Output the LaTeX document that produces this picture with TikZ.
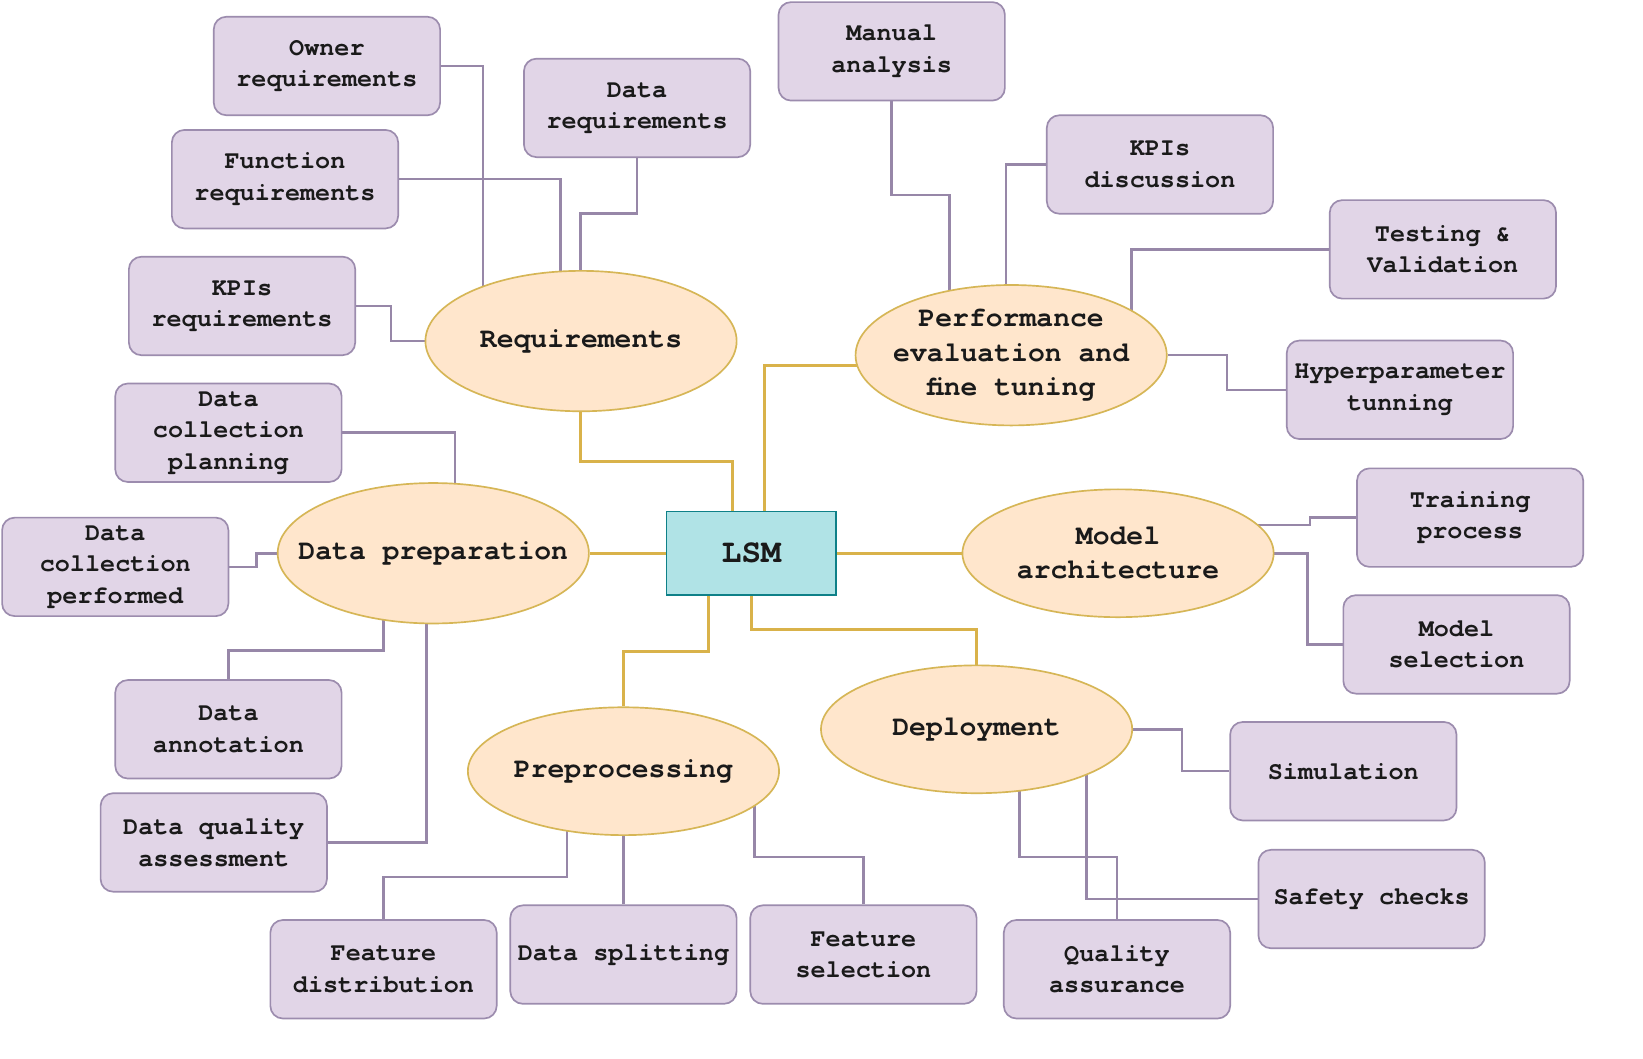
\documentclass[tikz,border=0pt]{standalone}
\usepackage{fontspec}
\setmonofont{TeX Gyre Cursor}
\usetikzlibrary{shapes.geometric}
\pgfdeclarelayer{background}
\pgfsetlayers{background,main}
\definecolor{boxfill}{HTML}{E1D5E7}
\definecolor{boxline}{HTML}{9C8CAE}
\definecolor{elfill}{HTML}{FFE6CC}
\definecolor{elline}{HTML}{D6B656}
\definecolor{lsmfill}{HTML}{B0E3E6}
\definecolor{lsmline}{HTML}{0E8088}
\definecolor{conP}{HTML}{9787A8}
\definecolor{conG}{HTML}{D9B24A}
\definecolor{txt}{HTML}{1A1A1A}
\begin{document}
\begin{tikzpicture}[x=0.5pt,y=-0.5pt,
  leaf/.style={draw=boxline, fill=boxfill, line width=0.8pt, rounded corners=6pt,
    minimum width=108pt, minimum height=47pt, inner sep=0pt, align=center, text=txt,
    font=\ttfamily\bfseries\fontsize{12}{15}\selectfont},
  phase/.style={ellipse, draw=elline, fill=elfill, line width=0.8pt,
    minimum width=148.5pt, minimum height=67pt, inner sep=0pt},
  phaseS/.style={phase, minimum height=61pt},
  phasetext/.style={align=center, text=txt, inner sep=0pt,
    font=\ttfamily\bfseries\fontsize{13.4}{16.3}\selectfont},
  core/.style={draw=lsmline, fill=lsmfill, line width=0.8pt, minimum width=81pt,
    minimum height=40pt, inner sep=0pt, text=txt,
    font=\ttfamily\bfseries\fontsize{15.8}{18}\selectfont},
  pl/.style={draw=conP, line width=1.2pt},
  gl/.style={draw=conG, line width=1.4pt}]
\useasboundingbox (0,0) rectangle (1568,1010);

% central node
\node[core] (lsm) at (717,528) {LSM};

% phases
\node[phase, label={[phasetext]center:Requirements}] (req) at (554.5,325.5) {};
\node[phase, label={[phasetext]center:{Performance\\evaluation and\\fine tuning}}] (perf) at (965,339) {};
\node[phase, label={[phasetext]center:{Data preparation}}] (dprep) at (413.5,528) {};
\node[phaseS, label={[phasetext]center:{Model\\architecture}}] (march) at (1067,528) {};
\node[phaseS, label={[phasetext]center:Deployment}] (dep) at (932,696) {};
\node[phaseS, label={[phasetext]center:Preprocessing}] (prep) at (595,736) {};

% leaves
\node[leaf] (own) at (312,63) {Owner\\requirements};
\node[leaf] (dreq) at (608,103) {Data\\requirements};
\node[leaf] (func) at (272,171) {Function\\requirements};
\node[leaf] (kpir) at (231,292) {KPIs\\requirements};
\node[leaf] (dcp) at (218,413) {Data\\collection\\planning};
\node[leaf] (dcperf) at (110,541) {Data\\collection\\performed};
\node[leaf] (dann) at (218,696) {Data\\annotation};
\node[leaf] (dqa) at (204,804) {Data quality\\assessment};
\node[leaf] (fdist) at (366,925) {Feature\\distribution};
\node[leaf] (dsplit) at (595,911) {Data splitting};
\node[leaf] (fsel) at (824,911) {Feature\\selection};
\node[leaf] (qa) at (1066,925) {Quality\\assurance};
\node[leaf] (safe) at (1309,858) {Safety checks};
\node[leaf] (sim) at (1282,736) {Simulation};
\node[leaf] (msel) at (1390,615) {Model\\selection};
\node[leaf] (train) at (1403,494) {Training\\process};
\node[leaf] (hyp) at (1336,372) {Hyperparameter\\tunning};
\node[leaf] (test) at (1377,238) {Testing \&\\Validation};
\node[leaf] (kpid) at (1107,157) {KPIs\\discussion};
\node[leaf] (man) at (851,49) {Manual\\analysis};

\begin{pgfonlayer}{background}
\fill[white] (0,0) rectangle (1568,1010);
% gold connectors from LSM
\draw[gl] (lsm.north -| 699,0) |- (554,440) -- (554,0 |- req);
\draw[gl] (lsm.north -| 730,0) |- ([yshift=-5pt]perf.center);
\draw[gl] (lsm) -- (dprep);
\draw[gl] (lsm) -- (march);
\draw[gl] (lsm.south -| 676,0) |- (595,622) -- (prep);
\draw[gl] (lsm) |- (932,601) -- (dep);

% requirements
\draw[pl] (own) -| (461,0 |- req);
\draw[pl] (func) -| (535,0 |- req);
\draw[pl] (dreq) |- (554,204) -- (554,0 |- req);
\draw[pl] (kpir) -| (373,0 |- req) -- (req);

% data preparation
\draw[pl] (dcp) -| (434,0 |- dprep);
\draw[pl] (dcperf) -| (245,0 |- dprep) -- (dprep);
\draw[pl] (dann) |- (366,621) -- (366,0 |- dprep);
\draw[pl] (dqa) -| (407,0 |- dprep);

% preprocessing
\draw[pl] (fdist) |- (541,837) -- (541,0 |- prep);
\draw[pl] (dsplit) -- (prep);
\draw[pl] (fsel) |- (720,818) -- (720,0 |- prep);

% deployment
\draw[pl] (dep) -| (1128,0 |- sim) -- (sim);
\draw[pl] (qa) |- (973,818) -- (973,0 |- dep);
\draw[pl] (safe) -| (1037,0 |- dep);

% model architecture
\draw[pl] (march |- 0,501) -- (1250,501) |- (train);
\draw[pl] (march) -| (1248,0 |- msel) -- (msel);

% performance evaluation
\draw[pl] (man) |- (906,186) -- (906,0 |- perf);
\draw[pl] (kpid) -| (960,0 |- perf);
\draw[pl] (test) -| (1080,0 |- perf);
\draw[pl] (perf) -| (1171,0 |- hyp) -- (hyp);
\end{pgfonlayer}
\end{tikzpicture}
\end{document}
